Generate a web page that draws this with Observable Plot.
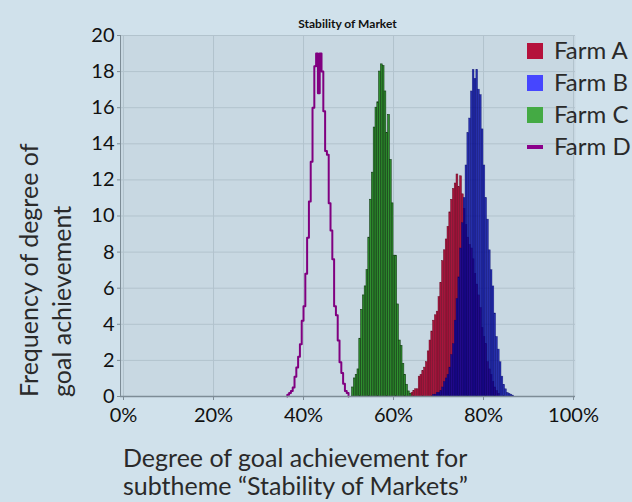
<!DOCTYPE html>
<html>
<head>
<meta charset="utf-8">
<script src="https://cdn.jsdelivr.net/npm/d3@7"></script>
<script src="https://cdn.jsdelivr.net/npm/@observablehq/plot@0.6"></script>
<style>
  html, body { margin: 0; padding: 0; background: #d0e1eb; }
  #wrap { position: relative; width: 632px; height: 502px; overflow: hidden; font-family: Lato, "Open Sans", sans-serif; color: #222; }
  #chart { position: absolute; left: 0; top: 0; }
  #title { position: absolute; left: 120px; width: 455px; top: 16px; text-align: center; font-weight: bold; font-size: 12px; color: #111; }
  #xtitle { position: absolute; left: 123px; top: 443px; font-size: 25px; line-height: 28px; white-space: nowrap; color: #2a2a2a; }
  #ytitle { position: absolute; left: 12px; top: 397px; font-size: 25px; line-height: 33px; white-space: nowrap; transform-origin: 0 0; transform: rotate(-90deg); color: #2a2a2a; }
  #legend { position: absolute; left: 527px; top: 36px; }
  .item { position: relative; height: 32px; font-size: 24px; white-space: nowrap; color: #2a2a2a; }
  .sw { position: absolute; left: 0; top: 7px; width: 16px; height: 16px; }
  .ln { position: absolute; left: 0; top: 13px; width: 16px; height: 4px; }
  .lab { position: absolute; left: 27px; top: -1px; line-height: 30px; }
</style>
</head>
<body>
<div id="wrap">
  <div id="chart"></div>
  <div id="title"></div>
  <div id="xtitle"></div>
  <div id="ytitle"></div>
  <div id="legend"></div>
</div>
<script>
// ---- data ----
const chartTitle = "Stability of Market";
const xTitleLines = ["Degree of goal achievement for", "subtheme \u201CStability of Markets\u201D"];
const yTitleLines = ["Frequency of degree of", "goal achievement"];
const farmNames = ["Farm A", "Farm B", "Farm C", "Farm D"];
const farmColors = ["#b5123c", "#4646ff", "#44aa44", "#8b008b"];
const xTicks = [0, 20, 40, 60, 80, 100];
const yTicks = [0, 2, 4, 6, 8, 10, 12, 14, 16, 18, 20];
const binWidth = 0.4; // percent

const farmAStart = 64.0;
const farmA = [0.2, 0.3, 0.4, 0.4, 1.1, 1.2, 1.4, 1.6, 1.9, 2.5, 3.1, 3.6, 4.2, 4.5, 4.7, 5.5, 6.3, 7.5, 8.1, 8.7,
  9.4, 10.2, 10.9, 11.5, 11.8, 12.3, 11.6, 12.2, 11.2, 10.4, 9.5, 8.8, 8.4, 8.2, 7.6, 6.8, 6.2, 5.6, 4.9, 3.8,
  3.3, 2.9, 1.9, 1.5, 1.2, 0.8, 0.5, 0.3, 0.15];

const farmBStart = 68.8;
const farmB = [0.1, 0.1, 0.2, 0.2, 0.3, 0.5, 0.8, 1.0, 1.2, 1.6, 2.3, 2.9, 4.2, 5.4, 6.6, 8.2, 9.6, 11.0, 12.8, 14.6,
  15.4, 16.9, 18.1, 17.6, 18.1, 17.0, 16.7, 14.8, 12.8, 11.0, 9.8, 8.1, 7.0, 6.1, 4.6, 3.3, 2.6, 1.9, 1.1, 0.65,
  0.4, 0.2, 0.15, 0.1, 0.05];

const farmCStart = 50.8;
const farmC = [0.5, 1.0, 1.2, 1.5, 3.2, 4.8, 5.6, 6.1, 7.0, 8.8, 10.9, 12.4, 14.9, 16.0, 16.3, 18.0, 18.4, 18.3, 16.9, 14.6,
  15.6, 13.1, 10.7, 7.8, 7.8, 5.1, 3.1, 2.8, 1.8, 1.2, 0.65, 0.28, 0.15];

const farmDStart = 36.4;
const farmD = [0.1, 0.2, 0.3, 0.5, 1.1, 1.6, 2.2, 2.9, 4.2, 5.0, 6.8, 8.8, 10.8, 13.0, 16.0, 18.3, 19.0, 16.8, 19.0, 18.0,
  15.8, 13.6, 13.4, 10.7, 9.2, 7.6, 5.0, 4.5, 3.1, 1.9, 1.3, 0.7, 0.3, 0.2];

// ---- build tables ----
function bins(start, vals) {
  return vals.map((v, i) => ({x1: start + i * binWidth, x2: start + (i + 1) * binWidth, y: v}));
}
function steps(start, vals) {
  const pts = [{x: start, y: 0}];
  vals.forEach((v, i) => pts.push({x: start + i * binWidth, y: v}));
  pts.push({x: start + vals.length * binWidth, y: 0});
  return pts;
}

const chart = Plot.plot({
  width: 632,
  height: 440,
  marginLeft: 120,
  marginRight: 57,
  marginTop: 35,
  marginBottom: 44,
  style: {fontFamily: "Lato, 'Open Sans', sans-serif", background: "transparent", color: "#111"},
  x: {domain: [-0.67, 100.44], ticks: xTicks, tickFormat: d => d + "%"},
  y: {domain: [0, 20], ticks: yTicks},
  marks: [
    Plot.frame({fill: "#c8d8e2", stroke: null}),
    Plot.gridY(yTicks, {stroke: "#b2c3cd", strokeOpacity: 1}),
    Plot.gridX(xTicks, {stroke: "#b2c3cd", strokeOpacity: 1}),
    Plot.rectY(bins(farmAStart, farmA), {x1: "x1", x2: "x2", y: "y", fill: "#a8153d", stroke: "#6e0c26", strokeWidth: 0.5}),
    Plot.rectY(bins(farmBStart, farmB), {x1: "x1", x2: "x2", y: "y", fill: "#0008a0", fillOpacity: 0.8, stroke: "#000060", strokeOpacity: 0.6, strokeWidth: 0.5}),
    Plot.rectY(bins(farmCStart, farmC), {x1: "x1", x2: "x2", y: "y", fill: "#2f8f2f", stroke: "#143d14", strokeWidth: 0.6}),
    Plot.line(steps(farmDStart, farmD), {x: "x", y: "y", curve: "step-after", stroke: "#800080", strokeWidth: 2}),
    Plot.ruleY([0], {stroke: "#7d8c96", strokeWidth: 1.5}),
    Plot.ruleX([-0.67], {stroke: "#7d8c96", strokeWidth: 1}),
    Plot.axisX(xTicks, {tickSize: 4, tickPadding: 7, fontSize: 20, stroke: "#7d8c96", tickFormat: d => d + "%", label: null}),
    Plot.axisY(yTicks, {tickSize: 3, tickPadding: 3, fontSize: 20, stroke: "#7d8c96", label: null})
  ]
});
document.getElementById("chart").appendChild(chart);

document.getElementById("title").textContent = chartTitle;
document.getElementById("xtitle").innerHTML = xTitleLines.map(s => "<div>" + s + "</div>").join("");
document.getElementById("ytitle").innerHTML = yTitleLines.map(s => "<div>" + s + "</div>").join("");

const legend = document.getElementById("legend");
farmNames.forEach((name, i) => {
  const item = document.createElement("div");
  item.className = "item";
  const mark = document.createElement("div");
  mark.className = i === 3 ? "ln" : "sw";
  mark.style.background = farmColors[i];
  const lab = document.createElement("div");
  lab.className = "lab";
  lab.textContent = name;
  item.appendChild(mark);
  item.appendChild(lab);
  legend.appendChild(item);
});
</script>
</body>
</html>
